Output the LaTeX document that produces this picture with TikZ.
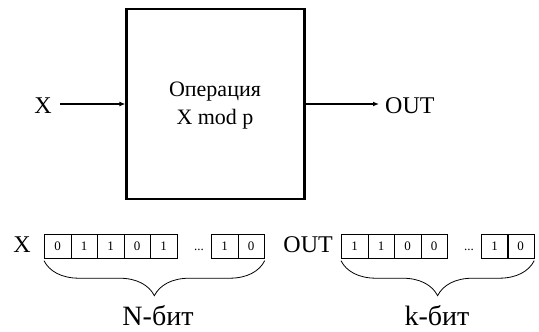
\documentclass[tikz,border=0pt]{standalone}
\usepackage{fontspec}
\setmainfont{Liberation Serif}
\usetikzlibrary{arrows.meta,decorations.pathreplacing}
\begin{document}
\begin{tikzpicture}[x=1pt,y=-1pt,
  lbl/.style={inner sep=0pt,font=\fontsize{24}{26}\selectfont},
  cell/.style={draw,line width=0.7pt,minimum width=26.5pt,minimum height=24pt,inner sep=0pt,anchor=north west,font=\fontsize{13}{14}\selectfont},
  dots/.style={inner sep=0pt,font=\fontsize{13}{14}\selectfont},
  arr/.style={line width=1.8pt,-{Latex[length=6pt,width=5pt]}},
  br/.style={decorate,decoration={brace,mirror,amplitude=35pt,raise=2pt},line width=0.8pt},
  blab/.style={inner sep=0pt,font=\fontsize{28}{30}\selectfont}]
\useasboundingbox (0,0) rectangle (539,332);
% main block
\node[draw,line width=2.2pt,minimum width=178pt,minimum height=190pt,inner sep=0pt] (blk) at (215.5,104) {};
\node[inner sep=0pt,font=\fontsize{22}{28}\selectfont,align=center] (op) at (215,106) {Операция\\X mod p};
\node[lbl] (x) at (43,106) {X};
\node[lbl,anchor=west] (out) at (385,106) {OUT};
\draw[arr] (x.east) ++(8,-2) coordinate (xs) -- (blk.west |- xs);
\draw[arr] (blk.east |- xs) -- ([xshift=-6pt]out.west |- xs);
% bottom X register
\node[lbl] (bx) at (22,245) {X};
\node[cell] (a1) at (44,234) {0};
\node[cell] (a2) at (70.5,234) {1};
\node[cell] (a3) at (97,234) {1};
\node[cell] (a4) at (123.5,234) {0};
\node[cell] (a5) at (150,234) {1};
\node[cell] (a6) at (211,234) {1};
\node[cell] (a7) at (237.5,234) {0};
\node[dots,anchor=base] (ad) at (a5.base -| 199,0) {...};
\draw[br] (a1.south west) -- (a7.south east);
\node[blab] (nb) at (158,316) {N-бит};
% bottom OUT register
\node[lbl,anchor=east] (bo) at (333,245) {OUT};
\node[cell] (b1) at (341,234) {1};
\node[cell] (b2) at (367.5,234) {1};
\node[cell] (b3) at (394,234) {0};
\node[cell] (b4) at (420.5,234) {0};
\node[cell] (b5) at (481,234) {1};
\node[cell] (b6) at (507,234) {0};
\node[dots,anchor=base] (bd) at (b4.base -| 469,0) {...};
\draw[br] (b1.south west) -- (b6.south east);
\node[blab] (kb) at (437,316) {k-бит};
\end{tikzpicture}
\end{document}
